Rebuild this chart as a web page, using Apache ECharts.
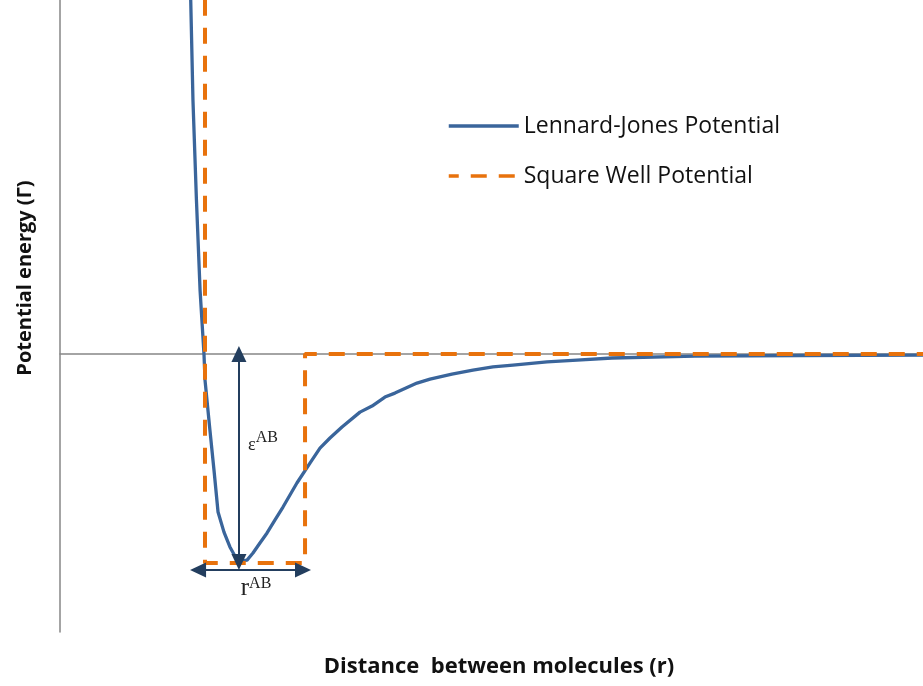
<!DOCTYPE html>
<html>
<head>
<meta charset="utf-8">
<script src="https://cdn.jsdelivr.net/npm/echarts@6/dist/echarts.min.js"></script>
<style>html,body{margin:0;padding:0;background:#fff}#c{width:923px;height:686px}</style>
</head>
<body>
<div id="c"></div>
<script>
// Distance (units of sigma) and potential energy (units of epsilon)
const ljDistance = [0.900, 0.917, 0.941, 0.966, 0.993, 1.000, 1.034, 1.062, 1.090, 1.131, 1.172, 1.214, 1.248, 1.290, 1.331, 1.379, 1.428, 1.483, 1.538, 1.634, 1.724, 1.793, 1.862, 1.945, 2.069, 2.152, 2.241, 2.310, 2.462, 2.552, 2.703, 2.848, 2.986, 3.124, 3.359, 3.566, 3.807, 4.379, 5.103, 5.952];
const ljEnergy   = [1.742, 1.215, 0.737, 0.306, 0.000, -0.124, -0.364, -0.555, -0.756, -0.852, -0.923, -0.976, -0.990, -0.986, -0.952, -0.904, -0.856, -0.794, -0.732, -0.617, -0.522, -0.450, -0.402, -0.349, -0.278, -0.249, -0.206, -0.187, -0.139, -0.120, -0.096, -0.077, -0.062, -0.053, -0.038, -0.029, -0.019, -0.010, -0.007, -0.005];
const swDistance = [1.000, 1.000, 1.690, 1.690, 5.952];
const swEnergy   = [1.800, -1.000, -1.000, 0.000, 0.000];
const seriesNames = ['Lennard-Jones Potential', 'Square Well Potential'];
const xTitle = 'Distance  between molecules (r)';
const yTitle = 'Potential energy (Γ)';
// annotation values
const epsArrowX = 1.234, epsTop = 0, epsBottom = -0.995;
const rArrowY = -1.033, rLeft = 0.952, rRight = 1.676;
const epsLabelPos = [1.400, -0.420];
const rLabelPos = [1.352, -1.120];

const chart = echarts.init(document.getElementById('c'));
const navy = '#233E5E';
const serif = '"Liberation Serif", "DejaVu Serif", serif';
chart.setOption({
  animation: false,
  grid: { left: 60, right: 0, top: 0, bottom: 54 },
  xAxis: {
    type: 'value', min: 0, max: 5.952,
    axisLine: { show: true, onZero: true, lineStyle: { color: '#868686', width: 1.5 } },
    axisTick: { show: false }, axisLabel: { show: false }, splitLine: { show: false }
  },
  yAxis: {
    type: 'value', min: -1.330, max: 1.6938,
    axisLine: { show: true, lineStyle: { color: '#868686', width: 1.5 } },
    axisTick: { show: false }, axisLabel: { show: false }, splitLine: { show: false }
  },
  legend: {
    orient: 'vertical', left: 447, top: 112, padding: 0, itemWidth: 70, itemHeight: 28, itemGap: 22,
    data: seriesNames,
    itemStyle: { color: 'rgba(0,0,0,0)', borderColor: 'rgba(0,0,0,0)', borderWidth: 0 },
    lineStyle: { width: 3.5 },
    textStyle: { fontFamily: '"Open Sans"', fontSize: 23, color: '#111', lineHeight: 28 }
  },
  series: [
    {
      name: seriesNames[0], type: 'line', symbol: 'none', z: 2,
      data: ljDistance.map((x, i) => [x, ljEnergy[i]]),
      lineStyle: { color: '#3A659B', width: 3.3 }, itemStyle: { color: '#3A659B' }
    },
    {
      name: seriesNames[1], type: 'line', symbol: 'none', z: 3,
      data: swDistance.map((x, i) => [x, swEnergy[i]]),
      lineStyle: { color: '#E8720C', width: 4, type: [16, 12], dashOffset: 6 }, itemStyle: { color: '#E8720C' }
    },
    {
      type: 'line', data: [], z: 4, silent: true,
      markLine: {
        silent: true, symbol: ['triangle', 'triangle'], symbolSize: [15, 16],
        label: { show: false },
        lineStyle: { color: navy, width: 2, type: 'solid' },
        data: [
          [{ coord: [epsArrowX, epsTop] }, { coord: [epsArrowX, epsBottom] }],
          [{ coord: [rLeft, rArrowY] }, { coord: [rRight, rArrowY] }]
        ]
      },
      markPoint: {
        silent: true, symbol: 'circle', symbolSize: 0,
        data: [
          { coord: epsLabelPos, label: { show: true, formatter: '{b|ε}{s|AB}', rich: {
            b: { fontFamily: serif, fontSize: 18, color: '#222', verticalAlign: 'bottom' },
            s: { fontFamily: serif, fontSize: 16, color: '#222', padding: [0, 0, 9, 0] } } } },
          { coord: rLabelPos, label: { show: true, formatter: '{b|r}{s|AB}', rich: {
            b: { fontFamily: serif, fontSize: 25, color: '#222', verticalAlign: 'bottom' },
            s: { fontFamily: serif, fontSize: 16, color: '#222', padding: [0, 0, 8, 0] } } } }
        ]
      }
    }
  ],
  graphic: [
    { type: 'text', x: 499, y: 667, style: { text: xTitle, font: 'bold 22px "Open Sans"', fill: '#111', textAlign: 'center', textVerticalAlign: 'middle' } },
    { type: 'text', x: 25, y: 278, rotation: Math.PI / 2, style: { text: yTitle, font: 'bold 20px "Open Sans"', fill: '#111', textAlign: 'center', textVerticalAlign: 'middle' } }
  ]
});
</script>
</body>
</html>
